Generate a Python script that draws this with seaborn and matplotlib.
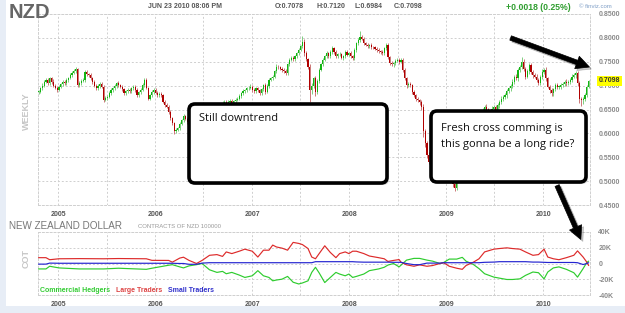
import numpy as np
import pandas as pd
import matplotlib
matplotlib.use("Agg")
import matplotlib.pyplot as plt
import matplotlib.dates as mdates
import matplotlib.transforms as mtransforms
from matplotlib.patches import FancyBboxPatch, FancyArrowPatch, Rectangle
from datetime import datetime
import seaborn as sns

# ---------------- data ----------------
start_date = "2004-10-18"          # first weekly candle
closes = [
    0.687, 0.695, 0.700, 0.708, 0.712, 0.705, 0.715, 0.708, 0.700, 0.696,
    0.691, 0.698, 0.703, 0.708, 0.705, 0.712, 0.716, 0.722, 0.727, 0.730,
    0.734, 0.701, 0.706, 0.710, 0.712, 0.729, 0.724, 0.722, 0.715, 0.708,
    0.700, 0.694, 0.700, 0.703, 0.698, 0.670, 0.674, 0.677, 0.685, 0.690,
    0.694, 0.700, 0.705, 0.701, 0.698, 0.692, 0.684, 0.688, 0.691, 0.688,
    0.694, 0.698, 0.690, 0.680, 0.686, 0.691, 0.702, 0.712, 0.695, 0.673,
    0.680, 0.686, 0.691, 0.685, 0.680, 0.683, 0.680, 0.666, 0.660, 0.656,
    0.645, 0.632, 0.621, 0.604, 0.607, 0.611, 0.620, 0.628, 0.636, 0.630,
    0.624, 0.615, 0.605, 0.598, 0.610, 0.620, 0.628, 0.635, 0.630, 0.640,
    0.645, 0.640, 0.648, 0.652, 0.645, 0.650, 0.655, 0.660, 0.658, 0.664,
    0.666, 0.662, 0.665, 0.668, 0.664, 0.667, 0.670, 0.673, 0.678, 0.684,
    0.688, 0.690, 0.694, 0.696, 0.698, 0.691, 0.688, 0.694, 0.690, 0.684,
    0.692, 0.701, 0.687, 0.700, 0.712, 0.716, 0.719, 0.730, 0.740, 0.738,
    0.735, 0.733, 0.730, 0.726, 0.745, 0.754, 0.758, 0.755, 0.761, 0.768,
    0.775, 0.782, 0.792, 0.768, 0.755, 0.740, 0.691, 0.700, 0.715, 0.687,
    0.710, 0.733, 0.745, 0.754, 0.762, 0.768, 0.761, 0.770, 0.778, 0.770,
    0.761, 0.766, 0.766, 0.758, 0.761, 0.771, 0.765, 0.768, 0.762, 0.757,
    0.775, 0.789, 0.795, 0.802, 0.798, 0.789, 0.786, 0.782, 0.785, 0.781,
    0.780, 0.777, 0.775, 0.772, 0.770, 0.768, 0.778, 0.785, 0.760, 0.747,
    0.745, 0.747, 0.752, 0.754, 0.750, 0.754, 0.733, 0.715, 0.701, 0.704,
    0.701, 0.687, 0.680, 0.672, 0.670, 0.665, 0.656, 0.604, 0.579, 0.555,
    0.541, 0.575, 0.580, 0.565, 0.560, 0.548, 0.575, 0.582, 0.560, 0.540,
    0.525, 0.510, 0.503, 0.493, 0.486, 0.505, 0.515, 0.520, 0.535, 0.550,
    0.560, 0.575, 0.580, 0.590, 0.600, 0.605, 0.615, 0.625, 0.638, 0.648,
    0.656, 0.650, 0.640, 0.645, 0.652, 0.655, 0.650, 0.659, 0.665, 0.673,
    0.676, 0.680, 0.688, 0.694, 0.700, 0.708, 0.719, 0.715, 0.733, 0.740,
    0.750, 0.735, 0.719, 0.730, 0.743, 0.728, 0.722, 0.719, 0.712, 0.705,
    0.718, 0.729, 0.733, 0.715, 0.698, 0.690, 0.684, 0.692, 0.701, 0.697,
    0.698, 0.701, 0.704, 0.708, 0.705, 0.708, 0.712, 0.719, 0.722, 0.726,
    0.705, 0.673, 0.670, 0.672, 0.680, 0.698, 0.7098,
]
# upper / lower shadow lengths in thousandths
wick_up = [
    4, 3, 5, 3, 4, 3, 4, 3, 5, 3,   3, 4, 3, 4, 3, 4, 3, 4, 3, 4,
    5, 3, 4, 3, 3, 4, 4, 3, 4, 3,   4, 3, 3, 4, 5, 3, 4, 3, 3, 4,
    3, 4, 3, 4, 3, 3, 4, 3, 4, 3,   4, 3, 3, 4, 3, 4, 3, 5, 4, 3,
    3, 4, 3, 4, 3, 3, 4, 3, 3, 4,   3, 4, 3, 3, 4, 3, 4, 3, 4, 3,
    4, 3, 3, 4, 3, 4, 3, 4, 3, 4,   3, 4, 3, 4, 3, 4, 3, 4, 3, 4,
    4, 3, 4, 3, 4, 3, 4, 3, 4, 3,   4, 3, 4, 3, 5, 3, 4, 3, 4, 3,
    4, 3, 4, 3, 4, 3, 4, 3, 5, 4,   3, 4, 3, 4, 3, 4, 4, 3, 4, 3,
    4, 3, 12, 5, 4, 3, 5, 6, 4, 5,  4, 4, 3, 4, 3, 4, 3, 4, 4, 3,
    4, 3, 4, 3, 4, 3, 4, 3, 4, 3,   4, 3, 4, 13, 4, 4, 3, 4, 3, 4,
    3, 4, 3, 4, 3, 4, 3, 4, 4, 3,   4, 3, 4, 3, 4, 3, 4, 3, 4, 3,
    4, 3, 4, 3, 4, 3, 4, 5, 6, 5,   5, 6, 5, 6, 5, 6, 5, 6, 5, 4,
    5, 4, 5, 4, 4, 5, 4, 5, 4, 5,   4, 5, 4, 4, 5, 4, 5, 4, 4, 5,
    4, 5, 4, 4, 5, 4, 5, 4, 4, 5,   4, 4, 5, 4, 4, 5, 4, 5, 4, 4,
    10, 5, 4, 5, 4, 5, 4, 4, 5, 4,  4, 5, 4, 5, 4, 4, 5, 4, 4, 5,
    4, 5, 4, 4, 5, 4, 4, 5, 4, 5,   4, 5, 4, 5, 4, 3, 2,
]
wick_dn = [
    4, 3, 4, 3, 3, 4, 3, 4, 3, 4,   4, 3, 4, 3, 4, 3, 4, 3, 4, 3,
    3, 4, 3, 4, 3, 4, 3, 4, 3, 4,   3, 4, 3, 4, 3, 4, 3, 4, 3, 4,
    4, 3, 4, 3, 4, 3, 4, 3, 4, 3,   3, 4, 3, 4, 3, 4, 3, 4, 3, 4,
    4, 3, 4, 3, 4, 3, 4, 3, 4, 3,   4, 3, 4, 5, 4, 3, 4, 3, 4, 3,
    4, 3, 4, 3, 4, 3, 4, 3, 4, 3,   3, 4, 3, 4, 3, 4, 3, 4, 3, 4,
    4, 3, 4, 3, 4, 3, 4, 3, 4, 3,   3, 4, 3, 4, 3, 4, 3, 4, 3, 4,
    4, 3, 4, 3, 4, 3, 4, 3, 4, 3,   3, 4, 3, 4, 3, 4, 3, 4, 3, 4,
    4, 3, 4, 5, 4, 6, 25, 8, 6, 8,  5, 4, 3, 4, 3, 4, 3, 4, 3, 4,
    4, 3, 4, 3, 4, 3, 4, 3, 4, 3,   3, 4, 3, 4, 3, 4, 3, 4, 3, 4,
    4, 3, 4, 3, 4, 3, 4, 3, 5, 4,   4, 5, 4, 3, 4, 3, 5, 4, 5, 4,
    4, 5, 4, 5, 4, 5, 6, 12, 8, 6,  6, 5, 6, 5, 6, 5, 6, 5, 6, 5,
    5, 6, 5, 6, 6, 5, 6, 5, 5, 6,   5, 6, 5, 5, 6, 5, 6, 5, 5, 6,
    5, 6, 5, 5, 6, 5, 6, 5, 5, 4,   5, 4, 5, 4, 5, 4, 5, 4, 5, 4,
    5, 4, 5, 4, 5, 4, 5, 4, 5, 4,   4, 5, 4, 5, 4, 5, 6, 5, 4, 5,
    4, 5, 4, 4, 5, 4, 4, 5, 4, 5,   6, 10, 12, 8, 5, 4, 3,
]

# COT (thousands of contracts), sampled at week indices
cot_week = [0, 4, 6, 11, 22, 35, 43, 58, 61, 70,
            72, 76, 78, 81, 85, 88, 92, 96, 99, 101,
            104, 108, 111, 115, 118, 121, 124, 126, 128, 131,
            134, 137, 140, 142, 145, 147, 149, 151, 154, 157,
            160, 162, 165, 167, 169, 171, 175, 178, 183, 186,
            188, 191, 194, 195, 198, 202, 205, 209, 212, 216,
            218, 221, 225, 228, 230, 234, 237, 240, 245, 248,
            252, 255, 259, 262, 266, 269, 272, 274, 277, 280,
            284, 288, 290, 293, 295, 296]
large_traders = [7.4, 7.4, 4.8, 6.0, 6.2, 6.0, 6.3, 6.0, 4.0, 3.9,
                 1.7, 6.9, 8.0, 3.9, 0.0, 3.9, 10.4, 11.3, 9.0, 14.7,
                 12.6, 15.6, 18.2, 15.6, 8.2, 16.9, 16.9, 23.4, 21.0, 19.5,
                 16.9, 26.8, 25.5, 24.0, 19.0, 8.2, 6.0, 12.6, 22.5, 14.0,
                 7.4, 12.6, 14.7, 12.6, 15.6, 15.6, 12.6, 9.5, 7.4, 6.0,
                 2.6, 3.9, 5.0, 1.7, -1.7, -3.5, -1.7, -3.5, -2.6, 0.0,
                 0.9, -3.5, -6.0, -7.4, -2.6, 1.7, 6.0, 14.7, 18.2, 19.0,
                 19.9, 19.0, 18.2, 14.7, 10.4, 11.3, 18.2, 8.2, 6.0, 4.8,
                 7.4, 10.4, 16.0, 8.2, 1.7, -2.6]
commercial_hedgers = [-6.9, -6.9, -3.5, -5.6, -6.9, -6.9, -6.0, -7.4, -6.0, -2.2,
                      -1.5, -4.3, -5.6, -3.0, -1.5, 0.0, -8.0, -11.3, -10.0, -13.0,
                      -11.3, -14.7, -17.7, -15.6, -9.1, -15.6, -17.7, -22.0, -21.0, -19.9,
                      -16.4, -23.8, -26.0, -24.7, -22.0, -11.3, -4.8, -12.0, -24.2, -17.7,
                      -11.3, -13.4, -15.6, -13.4, -17.7, -16.4, -13.4, -9.1, -6.9, -4.8,
                      -2.0, 0.0, -4.3, -2.2, 4.3, 6.5, 6.5, 4.3, 3.0, 0.0,
                      1.3, 5.6, 5.6, 7.8, 3.0, -1.3, -6.5, -13.0, -17.3, -18.6,
                      -20.3, -20.3, -19.5, -15.1, -10.8, -11.7, -19.5, -10.8, -5.6, -4.3,
                      -7.4, -11.7, -17.3, -6.5, 1.3, 3.0]
small_traders = [-0.8, -0.8, 0.5, 0.3, 0.3, 0.3, 0.3, 0.3, 0.3, 0.3,
                 0.3, 0.0, 0.0, -1.0, -1.0, 0.5, 1.0, 1.0, 1.0, 1.0,
                 1.0, 1.0, 1.0, 1.0, 1.0, 1.0, 1.0, 1.0, 1.0, 1.0,
                 1.0, 1.0, 1.0, 1.0, 1.0, 1.0, 2.3, 2.3, 2.3, 2.3,
                 2.3, 2.3, 2.3, 2.3, 2.3, 2.0, 1.7, 1.7, 1.7, 1.7,
                 1.7, 1.5, 1.5, 1.5, 0.0, -1.5, -1.5, 0.5, 0.5, 0.5,
                 1.0, 1.0, 1.0, 1.0, 1.0, 1.0, 1.0, 1.5, 1.8, 2.3,
                 2.3, 2.3, 2.3, 2.3, 1.8, 1.8, 1.5, 1.3, 1.3, 1.3,
                 1.3, 1.3, 1.0, -1.3, 0.0, 1.0]

years = ["2005", "2006", "2007", "2008", "2009", "2010"]
price_ticks = [0.45, 0.50, 0.55, 0.60, 0.65, 0.70, 0.75, 0.80, 0.85]
cot_ticks = [-40, -20, 0, 20, 40]
cot_labels = ["-40K", "-20K", "0", "20K", "40K"]
last_price = 0.7098

# ---------------- style ----------------
sns.set_theme(style="white")
plt.rcParams['font.family'] = ['Liberation Sans', 'DejaVu Sans']

W, H = 625, 313
fig = plt.figure(figsize=(W / 100, H / 100), dpi=100, facecolor='white')


def fx(x):
    return x / W


def fy(y):
    return 1 - y / H


GRID = '#cfcfcf'
DASH = (0, (2, 2))

# outer frame strips
for (x0, y0, w, h) in [(0, 0, 6, H), (0, 306, W, 7)]:
    fig.add_artist(Rectangle((fx(x0), fy(y0 + h)), w / W, h / H,
                             transform=fig.transFigure, color='#e7edf6', lw=0, zorder=0))

ax = fig.add_axes([fx(38), fy(205), fx(590) - fx(38), fy(14) - fy(205)])
ax2 = fig.add_axes([fx(38), fy(295), fx(590) - fx(38), fy(232) - fy(295)])

dates = pd.date_range(start_date, periods=len(closes), freq='7D')
xd = mdates.date2num(dates.to_pydatetime())
c = np.array(closes)
o = np.concatenate([[c[0]], c[:-1]])
hi = np.maximum(o, c) + np.array(wick_up) / 1000.0
lo = np.minimum(o, c) - np.array(wick_dn) / 1000.0
up = c >= o

body_w = 4.3
ax.vlines(xd[up], lo[up], hi[up], colors='#7fcf7f', lw=0.7, zorder=2)
ax.vlines(xd[~up], lo[~up], hi[~up], colors='#cc7777', lw=0.7, zorder=2)
bh = np.maximum(np.abs(c - o), 0.0012)
bb = np.minimum(o, c)
ax.bar(xd[up], bh[up], bottom=bb[up], width=body_w, color='#13b513', lw=0, zorder=3)
ax.bar(xd[~up], bh[~up], bottom=bb[~up], width=body_w, color='#b00000', lw=0, zorder=3)

# COT lines via seaborn
cot_x = xd[np.array(cot_week)]
n = len(cot_week)
cot_df = pd.DataFrame({
    'date': np.concatenate([cot_x, cot_x, cot_x]),
    'value': commercial_hedgers + large_traders + small_traders,
    'series': ['Commercial Hedgers'] * n + ['Large Traders'] * n + ['Small Traders'] * n,
})
sns.lineplot(data=cot_df, x='date', y='value', hue='series',
             hue_order=['Commercial Hedgers', 'Large Traders', 'Small Traders'],
             palette={'Commercial Hedgers': '#2ecc2e', 'Large Traders': '#dd2a2a',
                      'Small Traders': '#2424d0'},
             estimator=None, sort=False, linewidth=0.85, legend=False, ax=ax2, zorder=3)

xmin = mdates.date2num(datetime(2004, 10, 16))
xmax = mdates.date2num(datetime(2010, 6, 26))
major = mdates.date2num([datetime(int(y), 1, 1) for y in years])
minor = mdates.date2num([datetime(int(y), 7, 1) for y in years[:-1]])

for a in (ax, ax2):
    a.set_facecolor('none')
    a.set_xticks(major, labels=years, fontweight='bold')
    a.set_xticks(minor, minor=True)
    a.set_xlim(xmin, xmax)
    a.grid(True, which='both', axis='x', color=GRID, linestyle=DASH, lw=0.7)
    a.grid(True, which='major', axis='y', color=GRID, linestyle=DASH, lw=0.7)
    a.yaxis.tick_right()
    a.tick_params(axis='x', which='both', length=0, pad=4, labelsize=5, labelcolor='#555555')
    a.tick_params(axis='y', length=0, pad=6, labelsize=5, labelcolor='#8a8a8a')
    for s in a.spines.values():
        s.set_visible(True)
        s.set_color(GRID)
        s.set_linestyle(DASH)
        s.set_linewidth(0.7)
    a.set_xlabel('')
    a.set_ylabel('')

ax.set_yticks(price_ticks, labels=[f"{v:.4f}" for v in price_ticks], fontweight='bold')
ax.set_ylim(0.45, 0.85)
ax2.set_yticks(cot_ticks, labels=cot_labels, fontweight='bold')
ax2.set_ylim(-40, 40)

# last price tag
trans = mtransforms.blended_transform_factory(ax.transAxes, ax.transData)
ax.text(1.0 + 9 / 552, last_price, f"{last_price:.4f}", transform=trans, ha='left', va='center',
        fontsize=5, fontweight='bold', color='#333333', clip_on=False, zorder=10,
        bbox=dict(boxstyle='square,pad=0.25', fc='#ffff00', ec='none'))

# ---------------- header texts ----------------
fig.text(fx(9), fy(12.5), 'NZD', fontsize=14.5, fontweight='bold', color='#666666',
         ha='left', va='center')
fig.text(fx(148), fy(7), 'JUN 23 2010 08:06 PM', fontsize=5, fontweight='bold',
         color='#555555', ha='left', va='center')
for xx, t in [(275, 'O:0.7078'), (316, 'H:0.7120'), (355, 'L:0.6984'), (394, 'C:0.7098')]:
    fig.text(fx(xx), fy(7), t, fontsize=5, fontweight='bold', color='#555555',
             ha='left', va='center')
fig.text(fx(506), fy(7), '+0.0018 (0.25%)', fontsize=6.2, fontweight='bold',
         color='#2f9e2f', ha='left', va='center')
fig.text(fx(579), fy(6.5), '© finviz.com', fontsize=4.3, color='#7f9ec6',
         ha='left', va='center')
fig.text(fx(26), fy(111), 'WEEKLY', fontsize=6.5, fontweight='bold', color='#c6c6c6',
         rotation=90, ha='center', va='center')
fig.text(fx(26), fy(258), 'COT', fontsize=6.5, fontweight='bold', color='#c6c6c6',
         rotation=90, ha='center', va='center')
fig.text(fx(9), fy(226), 'NEW ZEALAND DOLLAR', fontsize=7.1, color='#777777',
         ha='left', va='center')
fig.text(fx(138), fy(226.5), 'CONTRACTS OF NZD 100000', fontsize=4.3, color='#999999',
         ha='left', va='center')
for xx, t, col in [(40, 'Commercial Hedgers', '#33cc33'), (116, 'Large Traders', '#dd4444'),
                   (168, 'Small Traders', '#3333cc')]:
    fig.text(fx(xx), fy(290), t, fontsize=5, fontweight='bold', color=col,
             ha='left', va='center')

# ---------------- annotation boxes & arrows ----------------
def pbox(x0, y0, x1, y1):
    # shadow
    fig.add_artist(FancyBboxPatch((x0 + 2, H - y1 - 2), x1 - x0, y1 - y0,
                                  boxstyle='round,pad=0,rounding_size=6', transform=None,
                                  fc='#000000', ec='none', alpha=0.18, zorder=20))
    fig.add_artist(FancyBboxPatch((x0, H - y1), x1 - x0, y1 - y0,
                                  boxstyle='round,pad=0,rounding_size=6', transform=None,
                                  fc='white', ec='black', lw=2.6, zorder=21))


pbox(189, 104, 387, 183)
pbox(431, 111, 586, 182)

note_font = ['Open Sans', 'DejaVu Sans']
fig.text(fx(199), fy(119), 'Still downtrend', fontsize=8, family=note_font, color='#111111',
         ha='left', va='center', zorder=25)
fig.text(fx(441), fy(128), 'Fresh cross comming is', fontsize=8, family=note_font,
         color='#111111', ha='left', va='center', zorder=25)
fig.text(fx(441), fy(144), 'this gonna be a long ride?', fontsize=8, family=note_font,
         color='#111111', ha='left', va='center', zorder=25)


def parrow(x0, y0, x1, y1):
    for dx, dy, col, al in [(2, -2, '#000000', 0.2), (0, 0, '#000000', 1.0)]:
        fig.add_artist(FancyArrowPatch((x0 + dx, H - y0 + dy), (x1 + dx, H - y1 + dy),
                                       arrowstyle='simple,head_length=0.95,head_width=0.95,tail_width=0.33',
                                       mutation_scale=10, transform=None, fc=col, ec=col,
                                       lw=0.5, alpha=al, capstyle='round', zorder=22))


parrow(508, 37, 592, 68)
parrow(556, 183, 582, 242)

fig.savefig('out.png', dpi=100, facecolor='white')
